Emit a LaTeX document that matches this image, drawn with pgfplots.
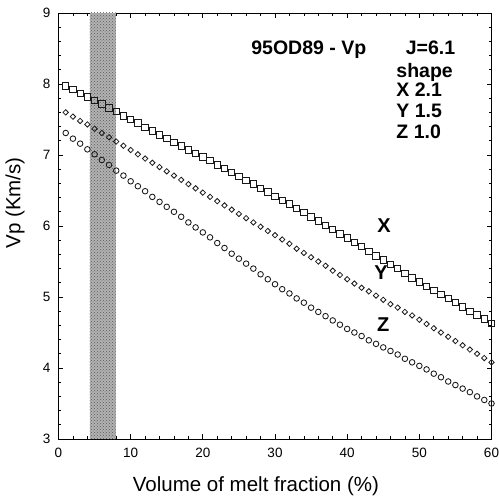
\documentclass[border=0pt]{standalone}
\usepackage{fontspec}
\setmainfont{Liberation Sans}
\usepackage{pgfplots}
\usepackage{pgfplotstable}
\usetikzlibrary{patterns}
\pgfplotsset{compat=1.18}
\pgfplotstableread{
x X Y Z
1 7.97 7.60 7.31
2 7.92 7.54 7.23
3 7.87 7.48 7.16
4 7.82 7.43 7.08
5 7.77 7.37 7.01
6 7.72 7.31 6.93
7 7.66 7.25 6.86
8 7.61 7.19 6.78
9 7.55 7.13 6.71
10 7.50 7.07 6.63
11 7.45 7.01 6.56
12 7.39 6.95 6.49
13 7.34 6.89 6.41
14 7.28 6.83 6.34
15 7.23 6.77 6.27
16 7.18 6.71 6.20
17 7.13 6.65 6.13
18 7.07 6.59 6.05
19 7.02 6.53 5.98
20 6.97 6.47 5.91
21 6.92 6.41 5.84
22 6.86 6.35 5.76
23 6.81 6.29 5.69
24 6.75 6.23 5.61
25 6.70 6.17 5.54
26 6.64 6.11 5.47
27 6.59 6.05 5.40
28 6.53 5.99 5.32
29 6.48 5.93 5.25
30 6.42 5.87 5.18
31 6.36 5.81 5.11
32 6.31 5.75 5.05
33 6.25 5.68 4.98
34 6.19 5.62 4.92
35 6.13 5.56 4.85
36 6.07 5.50 4.79
37 6.01 5.44 4.73
38 5.95 5.37 4.67
39 5.89 5.31 4.61
40 5.83 5.25 4.55
41 5.77 5.19 4.50
42 5.71 5.13 4.45
43 5.64 5.08 4.39
44 5.58 5.02 4.34
45 5.52 4.96 4.29
46 5.46 4.90 4.24
47 5.40 4.85 4.19
48 5.33 4.79 4.13
49 5.27 4.74 4.08
50 5.21 4.68 4.03
51 5.15 4.62 3.98
52 5.09 4.56 3.92
53 5.04 4.50 3.87
54 4.98 4.44 3.81
55 4.92 4.38 3.76
56 4.86 4.32 3.71
57 4.80 4.26 3.66
58 4.75 4.20 3.60
59 4.69 4.14 3.55
60 4.63 4.08 3.50
}\datatable
\begin{document}
\begin{tikzpicture}
\begin{axis}[name=ax, scale only axis, width=433pt, height=426pt,
  xmin=0, xmax=60, ymin=3, ymax=9, clip=false,
  xtick={0,10,...,60}, ytick={3,4,...,9},
  minor x tick num=4, minor y tick num=4,
  tick align=inside, major tick length=5pt, minor tick length=3pt,
  axis line style={line width=0.9pt},
  every tick/.style={black, line width=0.7pt},
  /pgf/number format/assume math mode=true,
  tick label style={font=\fontsize{13.5}{15}\selectfont},
  xticklabel style={yshift=-6pt},
  yticklabel style={xshift=-4.5pt},
  xlabel={Volume of melt fraction (\%)},
  ylabel={Vp (Km/s)},
  every axis x label/.style={at={(axis description cs:0.456,-0.1221)}, anchor=base, font=\fontsize{20.5}{24}\selectfont},
  every axis y label/.style={at={(axis description cs:-0.1005,0.554)}, anchor=center, rotate=90, font=\fontsize{20.5}{24}\selectfont},
]
\addplot[fill=black!30, draw=none, forget plot, postaction={pattern=crosshatch dots, pattern color=black!65}] coordinates {(4.3,3) (7.9,3) (7.9,9) (4.3,9)} -- cycle;
\addplot[only marks, mark=square, mark size=3.2pt, mark options={draw=black!90, fill=white, line width=0.9pt}] table[x=x, y=X] {\datatable};
\addplot[only marks, mark=square, mark size=1.9pt, mark options={rotate=45, draw=black!90, fill=white, line width=0.8pt}] table[x=x, y=Y] {\datatable};
\addplot[only marks, mark=o, mark size=2.8pt, mark options={draw=black!90, fill=white, line width=0.85pt}] table[x=x, y=Z] {\datatable};
\node[anchor=base west, font=\bfseries\fontsize{19.5}{22}\selectfont, inner sep=0pt] at (axis cs:26.7,8.41) {95OD89 - Vp};
\node[anchor=base east, font=\bfseries\fontsize{19.5}{22}\selectfont, inner sep=0pt] at (axis cs:55.0,8.41) {J=6.1};
\node[anchor=base west, font=\bfseries\fontsize{19.5}{22}\selectfont, inner sep=0pt] at (axis cs:46.8,8.09) {shape};
\node[anchor=base west, font=\bfseries\fontsize{19.5}{22}\selectfont, inner sep=0pt] at (axis cs:46.8,7.82) {X 2.1};
\node[anchor=base west, font=\bfseries\fontsize{19.5}{22}\selectfont, inner sep=0pt] at (axis cs:46.8,7.53) {Y 1.5};
\node[anchor=base west, font=\bfseries\fontsize{19.5}{22}\selectfont, inner sep=0pt] at (axis cs:46.8,7.235) {Z 1.0};
\node[font=\bfseries\fontsize{20}{22}\selectfont, inner sep=0pt] at (axis cs:45.1,6.0) {X};
\node[font=\bfseries\fontsize{20}{22}\selectfont, inner sep=0pt] at (axis cs:44.7,5.34) {Y};
\node[font=\bfseries\fontsize{20}{22}\selectfont, inner sep=0pt] at (axis cs:45.0,4.61) {Z};
\end{axis}
\pgfresetboundingbox
\path ([shift={(-58.5pt,-61pt)}]ax.south west) rectangle ([shift={(7pt,13pt)}]ax.north east);
\end{tikzpicture}
\end{document}
